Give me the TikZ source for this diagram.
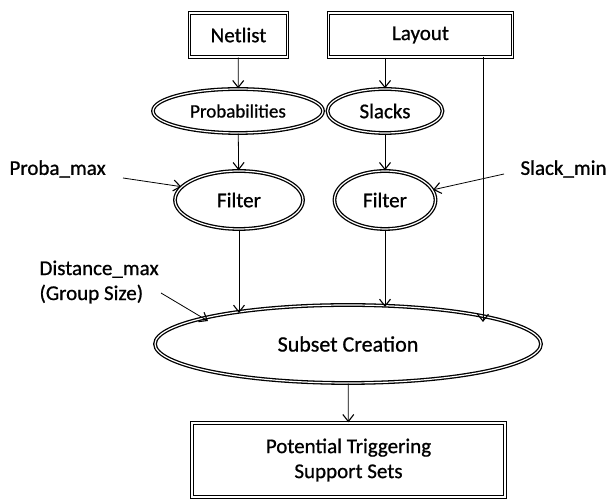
\documentclass[tikz,border=0pt]{standalone}
\usepackage{fontspec}
\setmainfont{Carlito}[FakeBold=0.8]
\usetikzlibrary{shapes.geometric,arrows.meta}
\begin{document}
\begin{tikzpicture}[
  dbl/.style={draw, double, double distance=1.2pt, line width=1.3pt},
  boxnode/.style={dbl, rectangle, inner sep=0pt},
  ellnode/.style={dbl, ellipse, inner sep=0pt},
  lbl/.style={font=\fontsize{21}{25}\selectfont},
  conn/.style={line width=0.8pt, -{Straight Barb[length=7pt,width=11pt,line width=1.1pt]}}
]
\useasboundingbox (0pt,0pt) rectangle (610pt,502pt);
\node[boxnode, lbl, minimum width=98pt, minimum height=44pt] (net) at (238.5pt,467pt) {Netlist};
\node[boxnode, lbl, minimum width=184pt, minimum height=44pt] (lay) at (420.5pt,467pt) {Layout};
\node[ellnode, font=\fontsize{19}{22}\selectfont, minimum width=170pt, minimum height=44pt] (prob) at (238pt,391pt) {Probabilities};
\node[ellnode, lbl, minimum width=115pt, minimum height=44pt] (slk) at (385pt,391pt) {Slacks};
\node[ellnode, lbl, minimum width=128pt, minimum height=58pt] (f1) at (239pt,302pt) {Filter};
\node[ellnode, lbl, minimum width=101pt, minimum height=58pt] (f2) at (385pt,302pt) {Filter};
\node[ellnode, font=\fontsize{22}{26}\selectfont, minimum width=386pt, minimum height=78pt] (sub) at (348pt,158pt) {Subset Creation};
\node[boxnode, lbl, minimum width=313pt, minimum height=74pt, align=center] (pot) at (348.5pt,42pt) {Potential Triggering\\Support Sets};
\node[lbl, anchor=west] (pm) at (6pt,333pt) {Proba\_max};
\node[lbl, anchor=west] (sm) at (517pt,333pt) {Slack\_min};
\node[lbl, anchor=west, align=left] (dm) at (36pt,220pt) {Distance\_max\\(Group Size)};
\coordinate (pmA) at (123pt,324pt);
\coordinate (smA) at (504pt,328pt);
\coordinate (dmA) at (161pt,209pt);
\coordinate (f1E) at (239pt,189pt);
\coordinate (f2E) at (385pt,195pt);
\coordinate (layS) at (483pt,445pt);
\coordinate (layE) at (483pt,180pt);
\coordinate (dmE) at (208pt,181pt);
\draw[conn] (net) -- (prob);
\draw[conn] (lay.south -| slk) -- (slk);
\draw[conn] (prob) -- (f1);
\draw[conn] (slk) -- (f2);
\draw[conn] (pmA) -- (f1.167);
\draw[conn] (smA) -- (f2.12);
\draw[conn] (f1.south) -- (f1E);
\draw[conn] (f2.south) -- (f2E);
\draw[conn] (layS) -- (layE);
\draw[conn] (dmA) -- (dmE);
\draw[conn] (sub) -- (pot);
\end{tikzpicture}
\end{document}
